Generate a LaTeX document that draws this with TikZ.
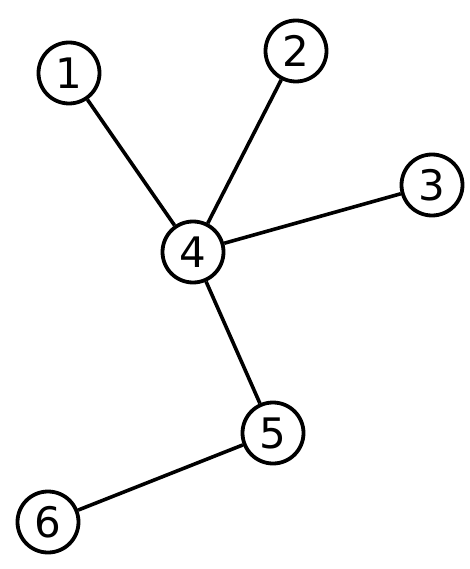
\documentclass[tikz,border=0pt]{standalone}
\usepackage{fontspec}
\setmainfont{DejaVu Sans}
\begin{document}
\begin{tikzpicture}[x=1pt,y=-1pt,
  vert/.style={circle,draw=black,line width=3.8pt,fill=white,minimum size=61pt,inner sep=0pt,font=\fontsize{42}{46}\selectfont},
  edge/.style={line width=3.6pt,black}]
\useasboundingbox (0,0) rectangle (470,569);
\node[vert] (n1) at (69,73) {1};
\node[vert] (n2) at (296,51) {2};
\node[vert] (n3) at (432,185) {3};
\node[vert] (n4) at (193,252) {4};
\node[vert] (n5) at (273,433) {5};
\node[vert] (n6) at (48,522) {6};
\draw[edge] (n1) -- (n4);
\draw[edge] (n2) -- (n4);
\draw[edge] (n3) -- (n4);
\draw[edge] (n4) -- (n5);
\draw[edge] (n5) -- (n6);
\end{tikzpicture}
\end{document}
